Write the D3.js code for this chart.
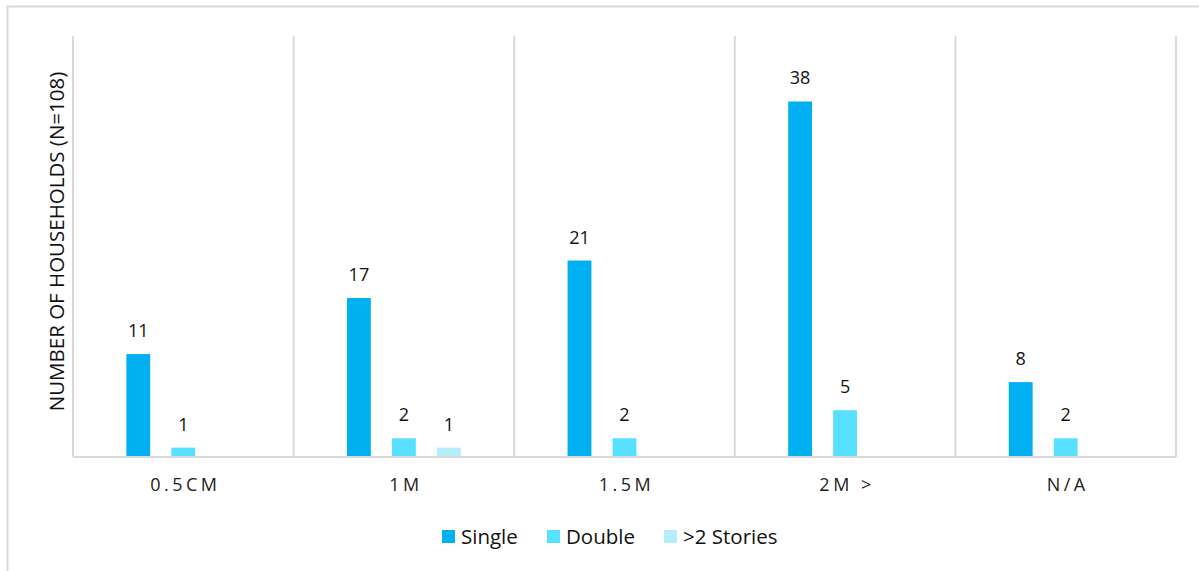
<!DOCTYPE html>
<html>
<head>
<meta charset="utf-8">
<script src="https://cdn.jsdelivr.net/npm/d3@7"></script>
<style>
  html, body { margin: 0; padding: 0; background: #fff; }
  svg { display: block; font-family: "Open Sans", "Noto Sans", sans-serif; }
</style>
</head>
<body>
<svg id="chart" width="1199" height="571"></svg>
<script>
// Household counts by category and number of storeys
const categories = ["0.5CM", "1M", "1.5M", "2M >", "N/A"];
const seriesNames = ["Single", "Double", ">2 Stories"];
const single = [11, 17, 21, 38, 8];
const double = [1, 2, 2, 5, 2];
const moreThanTwo = [null, 1, null, null, null];
const yTitle = "NUMBER OF HOUSEHOLDS (N=108)";

const series = [single, double, moreThanTwo];
const colors = ["#00B0F0", "#57E0FF", "#B3EEFB"];

const svg = d3.select("#chart");
const W = 1199, H = 571;

// outer frame
svg.append("rect")
  .attr("x", 7.5).attr("y", 6.5)
  .attr("width", W + 10).attr("height", H + 10)
  .attr("fill", "none").attr("stroke", "#d9d9d9").attr("stroke-width", 2);

const plot = { left: 73, right: 1176, top: 36, bottom: 457 };

const x = d3.scaleBand()
  .domain(categories)
  .range([plot.left, plot.right])
  .padding(0);

const x1 = d3.scaleBand()
  .domain(seriesNames)
  .range([0, 135])
  .paddingInner(0.47)
  .paddingOuter(0.235);

const y = d3.scaleLinear().domain([0, 45]).range([plot.bottom, plot.top]);

// vertical category separators
const bounds = categories.map(c => x(c)).concat([plot.right]);
svg.append("g").selectAll("line")
  .data(bounds)
  .join("line")
  .attr("x1", d => d).attr("x2", d => d)
  .attr("y1", plot.top).attr("y2", plot.bottom)
  .attr("stroke", "#d9d9d9").attr("stroke-width", 2);

// baseline
svg.append("line")
  .attr("x1", plot.left).attr("x2", plot.right)
  .attr("y1", plot.bottom).attr("y2", plot.bottom)
  .attr("stroke", "#d9d9d9").attr("stroke-width", 2);

const groupOffset = (x.bandwidth() - 135) / 2;

// bars and value labels
series.forEach((vals, si) => {
  const g = svg.append("g");
  const data = vals.map((v, i) => ({ cat: categories[i], v }))
    .filter(d => d.v != null);
  g.selectAll("rect")
    .data(data)
    .join("rect")
    .attr("x", d => x(d.cat) + groupOffset + x1(seriesNames[si]))
    .attr("y", d => y(d.v))
    .attr("width", x1.bandwidth())
    .attr("height", d => y(0) - y(d.v) - 1)
    .attr("fill", colors[si]);
  g.selectAll("text")
    .data(data)
    .join("text")
    .attr("x", d => x(d.cat) + groupOffset + x1(seriesNames[si]) + x1.bandwidth() / 2)
    .attr("y", d => y(d.v) - 17)
    .attr("text-anchor", "middle")
    .attr("font-size", 18)
    .attr("fill", "#111")
    .text(d => d.v);
});

// category labels
svg.append("g").selectAll("text")
  .data(categories)
  .join("text")
  .attr("x", d => x(d) + x.bandwidth() / 2 + 2)
  .attr("y", 491)
  .attr("text-anchor", "middle")
  .attr("font-size", 18)
  .attr("letter-spacing", "3.5px")
  .attr("fill", "#222")
  .text(d => d);

// y-axis title
svg.append("text")
  .attr("transform", `translate(64, ${(plot.top + plot.bottom) / 2 - 5}) rotate(-90)`)
  .attr("text-anchor", "middle")
  .attr("font-size", 20.5)
  .attr("fill", "#111")
  .text(yTitle);

// legend
const legendItems = [
  { name: "Single", x: 442 },
  { name: "Double", x: 547 },
  { name: ">2 Stories", x: 664 }
];
const lg = svg.append("g");
legendItems.forEach((it, i) => {
  lg.append("rect")
    .attr("x", it.x).attr("y", 530)
    .attr("width", 13).attr("height", 13)
    .attr("fill", colors[i]);
  lg.append("text")
    .attr("x", it.x + 19).attr("y", 544)
    .attr("font-size", 20.5)
    .attr("fill", "#111")
    .text(it.name);
});
</script>
</body>
</html>
